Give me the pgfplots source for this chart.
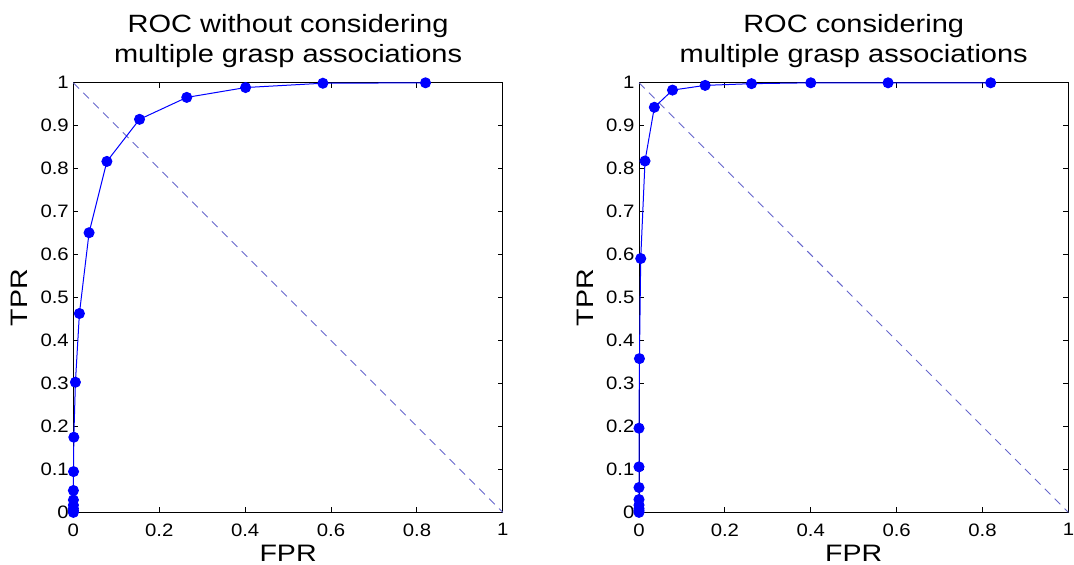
\documentclass[border=0pt]{standalone}
\usepackage{fontspec}
\setmainfont{Liberation Sans}
\usepackage{pgfplots}
\pgfplotsset{compat=1.18}
\definecolor{diag}{rgb}{0.40,0.40,0.80}
\pgfplotsset{
  rocax/.style={
    scale only axis, width=214.7pt, height=214.8pt,
    xmin=0, xmax=1, ymin=0, ymax=1,
    xtick={0,0.2,0.4,0.6,0.8,1},
    ytick={0,0.1,0.2,0.3,0.4,0.5,0.6,0.7,0.8,0.9,1},
    tick align=inside, major tick length=2.5pt,
    tick style={black, line width=0.5pt},
    axis line style={line width=0.5pt},
    clip=false,
    /pgf/number format/assume math mode=true,
    tick label style={font=\fontsize{9}{10}\selectfont, xscale=1.13},
    xticklabel style={yshift=-2pt},
    yticklabel style={xshift=1.5pt},
    xlabel={FPR}, ylabel={TPR},
    every axis x label/.style={at={(0.5,0)}, anchor=base, yshift=-24.5pt, xscale=1.2, font=\fontsize{11.9}{13}\selectfont},
    every axis y label/.style={at={(0,0.5)}, xshift=-22.7pt, rotate=90, xscale=1.2, anchor=base, font=\fontsize{11.9}{13}\selectfont},
    title style={align=center, font=\fontsize{12.5}{15}\selectfont, at={(0.5,1)}, anchor=south, inner sep=0pt, yshift=1.6pt, xscale=1.16},
  }
}
\begin{document}
\begin{tikzpicture}
\useasboundingbox (0,0) rectangle (537pt,282pt);
\begin{axis}[rocax, at={(36.7pt,25.8pt)}, anchor=south west,
  title={ROC without considering\\multiple grasp associations}]
\addplot[diag, dash pattern=on 4pt off 3pt, line width=0.45pt] coordinates {(0,1) (1,0)};
\addplot[blue, line width=0.5pt, mark=*, mark size=2.5pt, mark options={solid, fill=blue}] coordinates {
(0,0) (0,0.004) (0,0.009) (0,0.017) (0,0.029) (0,0.051) (0.0003,0.095) (0.001,0.175)
(0.0047,0.303) (0.014,0.463) (0.0365,0.651) (0.078,0.817) (0.154,0.915) (0.264,0.966)
(0.401,0.989) (0.581,0.999) (0.820,1.0)};
\end{axis}
\begin{axis}[rocax, at={(319.5pt,25.8pt)}, anchor=south west,
  title={ROC considering\\multiple grasp associations}]
\addplot[diag, dash pattern=on 4pt off 3pt, line width=0.45pt] coordinates {(0,1) (1,0)};
\addplot[blue, line width=0.5pt, mark=*, mark size=2.5pt, mark options={solid, fill=blue}] coordinates {
(0,0) (0,0.004) (0,0.009) (0,0.017) (0,0.030) (0,0.058) (0,0.106) (0,0.196)
(0.001,0.358) (0.004,0.591) (0.014,0.818) (0.0357,0.943) (0.078,0.983) (0.154,0.994)
(0.262,0.998) (0.40,1.0) (0.58,1.0) (0.819,1.0)};
\end{axis}
\end{tikzpicture}
\end{document}
